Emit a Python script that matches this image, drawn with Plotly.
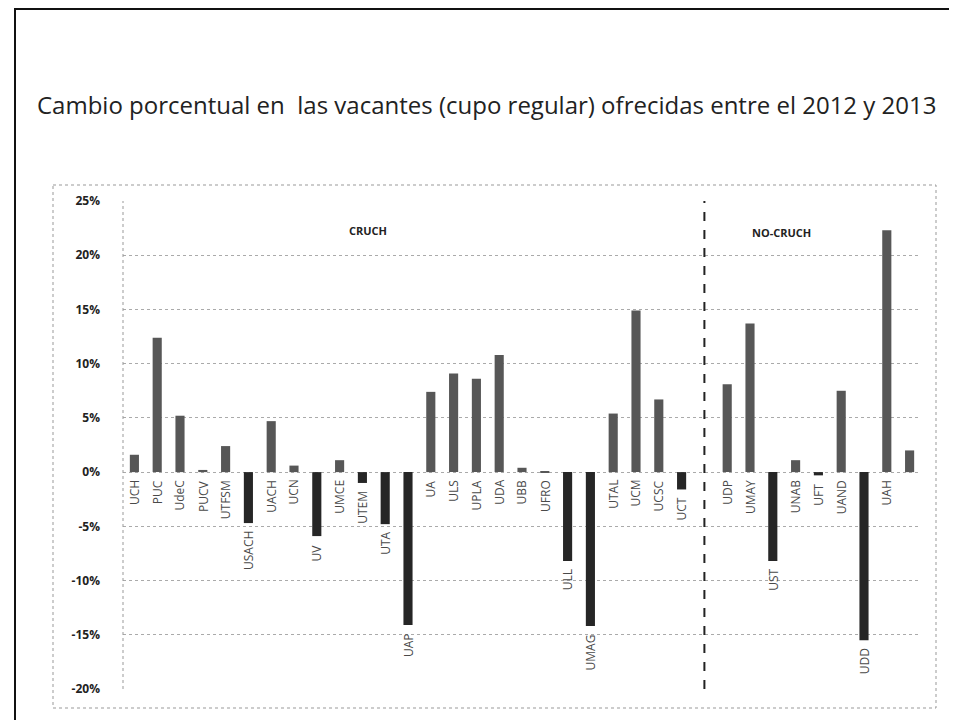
import plotly.graph_objects as go

# ---- data ----
crugh_names = ["UCH", "PUC", "UdeC", "PUCV", "UTFSM", "USACH", "UACH", "UCN", "UV", "UMCE",
               "UTEM", "UTA", "UAP", "UA", "ULS", "UPLA", "UDA", "UBB", "UFRO", "ULL",
               "UMAG", "UTAL", "UCM", "UCSC", "UCT"]
crugh_values = [1.6, 12.4, 5.2, 0.2, 2.4, -4.7, 4.7, 0.6, -5.9, 1.1,
                -1.0, -4.8, -14.1, 7.4, 9.1, 8.6, 10.8, 0.4, 0.1, -8.2,
                -14.2, 5.4, 14.9, 6.7, -1.6]
nocruch_names = ["UDP", "UMAY", "UST", "UNAB", "UFT", "UAND", "UDD", "UAH", "USS"]
nocruch_values = [8.1, 13.7, -8.2, 1.1, -0.3, 7.5, -15.5, 22.3, 2.0]
nocruch_labels = ["UDP", "UMAY", "UST", "UNAB", "UFT", "UAND", "UDD", "UAH", ""]
gap = " "

y_ticks = [25, 20, 15, 10, 5, 0, -5, -10, -15, -20]
y_tick_text = ["25%", "20%", "15%", "10%", "5%", "0%", "-5%", "-10%", "-15%", "-20%"]

title_text = "Cambio porcentual en  las vacantes (cupo regular) ofrecidas entre el 2012 y 2013"

# ---- build ----
cats = crugh_names + [gap] + nocruch_names
vals = crugh_values + [None] + nocruch_values
labels = crugh_names + [""] + nocruch_labels

W, H = 957, 720
L, R, T, B = 115, 913, 193, 681
px = lambda x: (x - L) / (R - L)
py = lambda y: (B - y) / (B - T)

colors = [("#262626" if (v is not None and v < 0) else "#575757") for v in vals]

fig = go.Figure()
fig.add_trace(go.Bar(
    x=cats, y=vals, marker=dict(color=colors, line=dict(width=0)),
    width=0.4, hoverinfo="x+y", showlegend=False,
))

annotations = []
for c, v, lab in zip(cats, vals, labels):
    if v is None or not lab:
        continue
    annotations.append(dict(
        x=c, y=min(v, 0), xref="x", yref="y", text=lab, showarrow=False,
        textangle=-90, xanchor="center", yanchor="top", yshift=-6,
        font=dict(family="Open Sans, sans-serif", size=12, color="#4a4a4a"),
    ))

annotations += [
    dict(x=px(360), y=py(222), xref="paper", yref="paper", text="<b>CRUCH</b>", showarrow=False,
         font=dict(family="Open Sans, sans-serif", size=11, color="#222"), xanchor="center", yanchor="middle"),
    dict(x=px(773), y=py(224), xref="paper", yref="paper", text="<b>NO-CRUCH</b>", showarrow=False,
         font=dict(family="Open Sans, sans-serif", size=11, color="#222"), xanchor="center", yanchor="middle"),
    dict(x=px(478), y=py(96), xref="paper", yref="paper", text=title_text, showarrow=False,
         font=dict(family="Open Sans, sans-serif", size=24, color="#222"), xanchor="center", yanchor="middle"),
]

shapes = [
    # outer frame
    dict(type="rect", xref="paper", yref="paper", x0=px(7), x1=px(950), y0=py(1), y1=py(719),
         line=dict(color="#111", width=2), fillcolor="rgba(0,0,0,0)", layer="below"),
    # chart area dotted border
    dict(type="rect", xref="paper", yref="paper", x0=px(45), x1=px(928), y0=py(177), y1=py(700),
         line=dict(color="#999", width=1, dash="dot"), fillcolor="rgba(0,0,0,0)", layer="below"),
    # left axis dotted line
    dict(type="line", xref="paper", yref="paper", x0=0, x1=0, y0=0, y1=1,
         line=dict(color="#999", width=1, dash="dot")),
    # divider
    dict(type="line", xref="x", yref="paper", x0=gap, x1=gap, y0=0, y1=1,
         line=dict(color="#222", width=2, dash="dash")),
]

fig.update_layout(
    width=W, height=H,
    margin=dict(l=L, r=W - R, t=T, b=H - B),
    paper_bgcolor="white", plot_bgcolor="white",
    annotations=annotations, shapes=shapes,
    bargap=0.6,
)
fig.update_xaxes(type="category", categoryorder="array", categoryarray=cats,
                 showticklabels=False, showgrid=False, zeroline=False, showline=False,
                 range=[-0.5, len(cats) - 0.5], fixedrange=True)
fig.update_yaxes(range=[-20, 25], tickvals=y_ticks, ticktext=y_tick_text,
                 showgrid=True, gridcolor="#aaa", griddash="dot", gridwidth=1,
                 zeroline=False, showline=False, ticks="", ticklabelstandoff=22,
                 tickfont=dict(family="Open Sans, sans-serif", size=12, color="#222", weight="bold"),
                 fixedrange=True)

fig.write_html("out.html")
